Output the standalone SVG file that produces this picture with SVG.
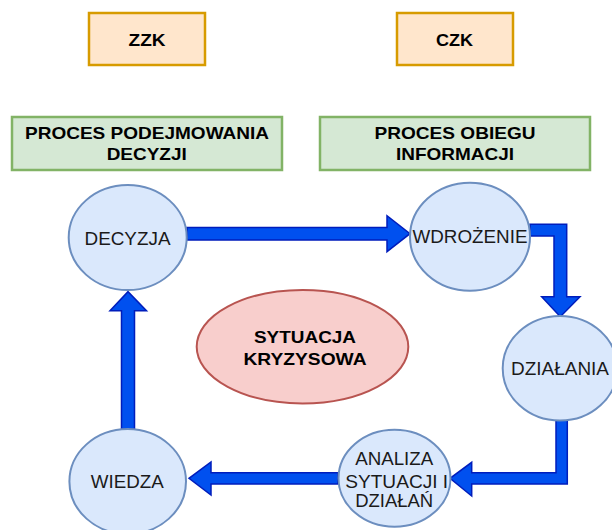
<svg xmlns="http://www.w3.org/2000/svg" width="612" height="530" viewBox="0 0 612 530">
  <style>
    .org { fill: #ffe6cc; stroke: #d79b00; stroke-width: 2.5; }
    .proc { fill: #d5e8d4; stroke: #82b366; stroke-width: 2.5; }
    .step { fill: #dae8fc; stroke: #6c8ebf; stroke-width: 2; }
    .crisis { fill: #f8cecc; stroke: #b85450; stroke-width: 2; }
    .flow { fill: #0050ef; stroke: #001dbc; stroke-width: 1.5; stroke-linejoin: miter; }
    text { font-family: "Liberation Sans", Arial, sans-serif; text-anchor: middle; }
    .b { font-weight: bold; font-size: 16.5px; fill: #000; }
    .r { font-size: 17.5px; fill: #1a1a1a; }
  </style>

  <g id="zzk">
    <rect class="org" x="89" y="13" width="116" height="52"/>
    <text class="b" x="147" y="46" textLength="37" lengthAdjust="spacingAndGlyphs">ZZK</text>
  </g>
  <g id="czk">
    <rect class="org" x="397" y="13" width="116" height="52"/>
    <text class="b" x="454.5" y="46" textLength="37" lengthAdjust="spacingAndGlyphs">CZK</text>
  </g>

  <g id="proces-decyzji">
    <rect class="proc" x="12" y="117" width="270" height="53"/>
    <text class="b" x="147" y="139.3" textLength="244" lengthAdjust="spacingAndGlyphs">PROCES PODEJMOWANIA</text>
    <text class="b" x="146.7" y="160" textLength="80" lengthAdjust="spacingAndGlyphs">DECYZJI</text>
  </g>
  <g id="proces-informacji">
    <rect class="proc" x="320" y="117" width="270" height="53"/>
    <text class="b" x="455" y="139.3" textLength="161" lengthAdjust="spacingAndGlyphs">PROCES OBIEGU</text>
    <text class="b" x="455" y="160" textLength="118" lengthAdjust="spacingAndGlyphs">INFORMACJI</text>
  </g>

  <g id="connectors">
    <!-- DECYZJA -> WDROŻENIE -->
    <polygon class="flow" points="187,227.5 387,227.5 387,215.7 410,233.7 387,251.7 387,240 187,240"/>
    <!-- WDROŻENIE -> DZIAŁANIA -->
    <polygon class="flow" points="530,224.3 566.7,224.3 566.7,296.7 580,296.7 560.3,316.7 541.7,296.7 554,296.7 554,236 530,236"/>
    <!-- DZIAŁANIA -> ANALIZA -->
    <polygon class="flow" points="556,420 567.3,420 567.3,484 471.7,484 471.7,496 450,478.3 471.7,462.3 471.7,472.7 556,472.7"/>
    <!-- ANALIZA -> WIEDZA -->
    <polygon class="flow" points="338,472.7 211,472.7 211,462 189,478.3 211,495 211,484 338,484"/>
    <!-- WIEDZA -> DECYZJA -->
    <polygon class="flow" points="121.5,429 121.5,310.7 110,310.7 128,291.7 146.5,310.7 134.5,310.7 134.5,429"/>
  </g>

  <g id="decyzja">
    <ellipse class="step" cx="127.7" cy="237.5" rx="59" ry="52.5"/>
    <text class="r" x="127.5" y="245" textLength="86" lengthAdjust="spacingAndGlyphs">DECYZJA</text>
  </g>
  <g id="wdrozenie">
    <ellipse class="step" cx="470" cy="236.7" rx="60" ry="54"/>
    <text class="r" x="470" y="242.7" textLength="115" lengthAdjust="spacingAndGlyphs">WDROŻENIE</text>
  </g>
  <g id="dzialania">
    <ellipse class="step" cx="560" cy="368.3" rx="57.3" ry="52.3"/>
    <text class="r" x="560" y="375" textLength="98" lengthAdjust="spacingAndGlyphs">DZIAŁANIA</text>
  </g>
  <g id="analiza">
    <ellipse class="step" cx="394.5" cy="478.3" rx="56" ry="48.5"/>
    <text class="r" x="394.2" y="465" textLength="78" lengthAdjust="spacingAndGlyphs">ANALIZA</text>
    <text class="r" x="396.7" y="487.7" textLength="103" lengthAdjust="spacingAndGlyphs">SYTUACJI I</text>
    <text class="r" x="394.2" y="506.7" textLength="78" lengthAdjust="spacingAndGlyphs">DZIAŁAŃ</text>
  </g>
  <g id="wiedza">
    <ellipse class="step" cx="127.7" cy="481.5" rx="58.3" ry="52.5"/>
    <text class="r" x="127.3" y="488.3" textLength="73" lengthAdjust="spacingAndGlyphs">WIEDZA</text>
  </g>

  <g id="sytuacja-kryzysowa">
    <ellipse class="crisis" cx="302.5" cy="346.7" rx="105.8" ry="56.7"/>
    <text class="b" x="305" y="343.3" textLength="102" lengthAdjust="spacingAndGlyphs">SYTUACJA</text>
    <text class="b" x="305" y="365" textLength="123" lengthAdjust="spacingAndGlyphs">KRYZYSOWA</text>
  </g>
</svg>
